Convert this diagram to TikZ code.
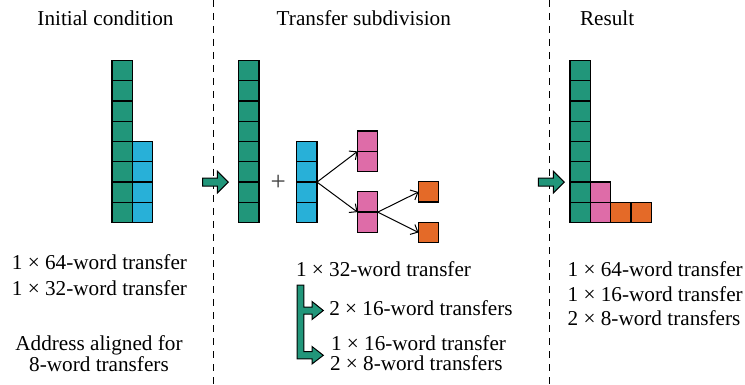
\documentclass[tikz,border=0pt]{standalone}
\usepackage{fontspec}
\setmainfont{Liberation Serif}
\usetikzlibrary{arrows.meta}
\definecolor{cgreen}{RGB}{33,150,122}
\definecolor{cblue}{RGB}{40,176,216}
\definecolor{cpink}{RGB}{222,108,168}
\definecolor{corange}{RGB}{228,106,40}
\begin{document}
\begin{tikzpicture}[x=1pt,y=-1pt,
  cell/.style={draw=black, line width=1.3pt, minimum width=20.3pt,
    minimum height=20.3pt, inner sep=0pt, outer sep=0pt},
  lbl/.style={inner sep=0pt, outer sep=0pt, font=\fontsize{21.2}{24}\selectfont},
  divider/.style={line width=1.2pt, dash pattern=on 7pt off 6pt},
  conn/.style={line width=1pt, -{Straight Barb[length=6pt,width=11pt]}},
  blockarrow/.style={fill=cgreen, draw=black, line width=1pt, line join=miter}]
\useasboundingbox (0,0) rectangle (745,385);
\fill[white] (0,0) rectangle (745,385);

% section dividers
\coordinate (d1top) at (213.3,0);
\coordinate (d1bot) at (213.3,385);
\coordinate (d2top) at (549.3,0);
\coordinate (d2bot) at (549.3,385);
\draw[divider] (d1top) -- (d1bot);
\draw[divider] (d2top) -- (d2bot);

% headings
\node[lbl, anchor=base] (h1) at (105.5,26) {Initial condition};
\node[lbl, anchor=base] (h2) at (363.8,26) {Transfer subdivision};
\node[lbl, anchor=base west] (h3) at (580,26) {Result};

% initial condition: 64-word and 32-word blocks
\foreach \i in {1,...,8}
  \node[cell, fill=cgreen] (ig\i) at (122.15,{60.3+20.3*(\i-0.5)}) {};
\foreach \i in {5,...,8}
  \node[cell, fill=cblue] (ib\i) at (142.45,{60.3+20.3*(\i-0.5)}) {};

% transfer subdivision
\draw[blockarrow] (202.7,178.1) -- (217.3,178.1) -- (217.3,171.2) -- (228.3,182.1)
  -- (217.3,193) -- (217.3,186.1) -- (202.7,186.1) -- cycle;
\foreach \i in {1,...,8}
  \node[cell, fill=cgreen] (tg\i) at (248.85,{60.3+20.3*(\i-0.5)}) {};
\node[inner sep=0pt, text=black!75, font=\fontsize{27}{30}\selectfont] (plus) at (278.3,182.5) {+};
\foreach \i in {5,...,8}
  \node[cell, fill=cblue] (tb\i) at (306.85,{60.3+20.3*(\i-0.5)}) {};
\node[cell, fill=cpink] (pt1) at (367.65,141.25) {};
\node[cell, fill=cpink] (pt2) at (367.65,161.55) {};
\node[cell, fill=cpink] (pb1) at (367.65,201.95) {};
\node[cell, fill=cpink] (pb2) at (367.65,222.25) {};
\node[cell, fill=corange] (ot) at (428.65,192.0) {};
\node[cell, fill=corange] (ob) at (428.65,232.5) {};
\draw[conn] (tb6.south east) -- (pt1.south west);
\draw[conn] (tb6.south east) -- (pb1.south west);
\draw[conn] (pb1.south east) -- (ot.west);
\draw[conn] (pb1.south east) -- (ob.west);

% result
\draw[blockarrow] (538.3,178.1) -- (553.3,178.1) -- (553.3,171.2) -- (564.3,182.1)
  -- (553.3,193) -- (553.3,186.1) -- (538.3,186.1) -- cycle;
\foreach \i in {1,...,8}
  \node[cell, fill=cgreen] (rg\i) at (580.15,{60.3+20.3*(\i-0.5)}) {};
\node[cell, fill=cpink] (rp7) at (600.45,{60.3+20.3*6.5}) {};
\node[cell, fill=cpink] (rp8) at (600.45,{60.3+20.3*7.5}) {};
\node[cell, fill=corange] (ro1) at (620.75,{60.3+20.3*7.5}) {};
\node[cell, fill=corange] (ro2) at (641.05,{60.3+20.3*7.5}) {};

% captions, left column
\node[lbl, anchor=base] (l1) at (99.5,269.3) {1 × 64-word transfer};
\node[lbl, anchor=base] (l2) at (99.5,295) {1 × 32-word transfer};
\node[lbl, anchor=base] (l3) at (99,350) {Address aligned for};
\node[lbl, anchor=base] (l4) at (99,371) {8-word transfers};

% captions, middle column
\node[lbl, anchor=base west] (m1) at (296,276.7) {1 × 32-word transfer};
\node[lbl, anchor=base west] (m2) at (329.3,315) {2 × 16-word transfers};
\node[lbl, anchor=base west] (m3) at (331,350) {1 × 16-word transfer};
\node[lbl, anchor=base west] (m4) at (330,370.7) {2 × 8-word transfers};

% bent split arrow
\draw[blockarrow] (297.2,285) -- (303.8,285) -- (303.8,307) -- (312,307)
  -- (312,301.5) -- (323.3,310.5) -- (312,319.5) -- (312,314) -- (303.8,314)
  -- (303.8,351.5) -- (312,351.5) -- (312,346.5) -- (323.3,355.3) -- (312,364)
  -- (312,358.8) -- (297.2,358.8) -- cycle;

% captions, right column
\node[lbl, anchor=base west] (r1) at (567.7,276.7) {1 × 64-word transfer};
\node[lbl, anchor=base west] (r2) at (567.7,301) {1 × 16-word transfer};
\node[lbl, anchor=base west] (r3) at (567.7,325) {2 × 8-word transfers};
\end{tikzpicture}
\end{document}
